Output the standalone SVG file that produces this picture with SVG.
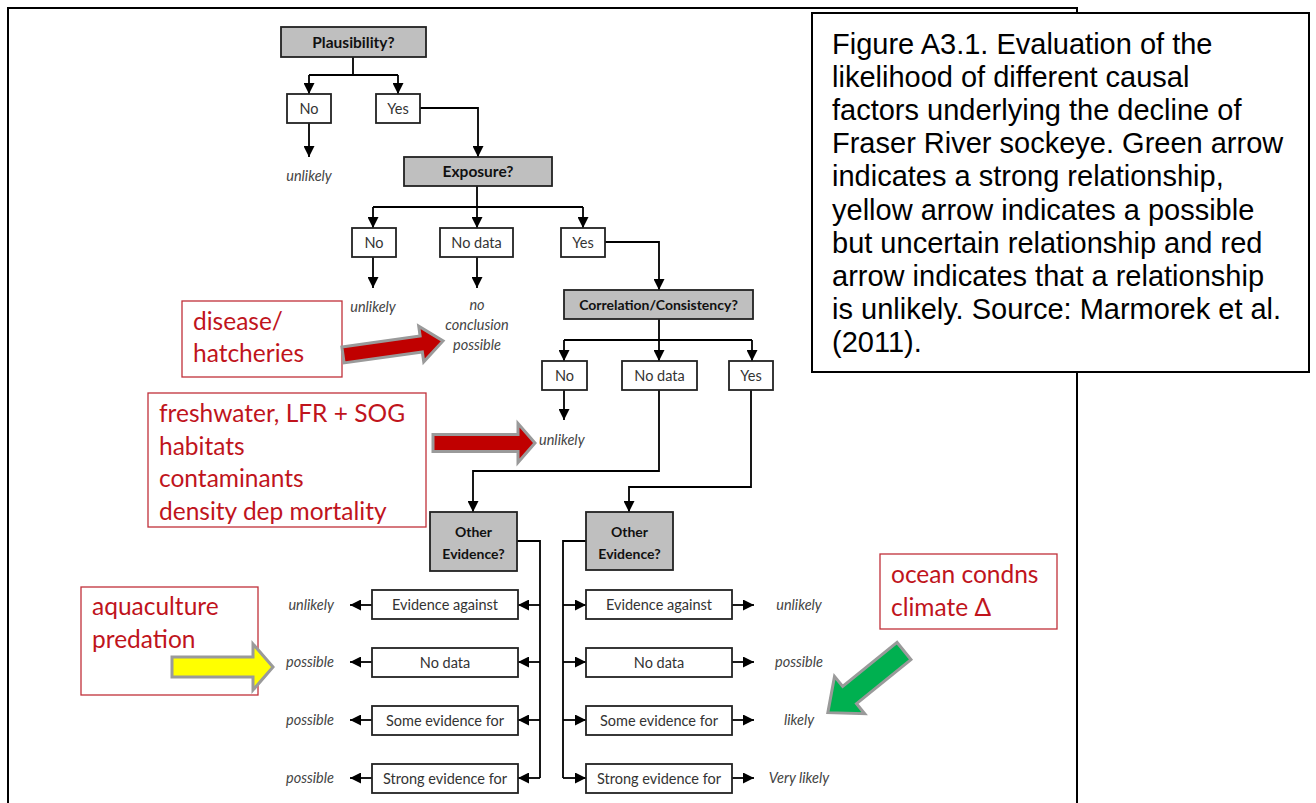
<svg xmlns="http://www.w3.org/2000/svg" width="1316" height="803" viewBox="0 0 1316 803">
<defs>
<marker id="ah" viewBox="0 0 10 10" refX="10" refY="5" markerWidth="11" markerHeight="11" markerUnits="userSpaceOnUse" orient="auto">
<path d="M0,0 L10,5 L0,10 z" fill="#000"/>
</marker>
<style>
.ln{fill:none;stroke:#000;stroke-width:1.8}
.q{fill:#BFBFBF;stroke:#222;stroke-width:1.8}
.b{fill:#fff;stroke:#222;stroke-width:1.8}
.qt{font-family:Lato,"Open Sans",sans-serif;font-weight:700;font-size:14px;fill:#111;text-anchor:middle}
.qb{font-size:15.5px}
.bt{font-family:Lato,"Open Sans",sans-serif;font-size:14.5px;fill:#333;text-anchor:middle}
.it{font-family:Lato,"Open Sans",sans-serif;font-style:italic;font-size:14.5px;fill:#444}
.ann{fill:#fff;stroke:#C0303A;stroke-width:1.3}
.at{font-family:Lato,"Open Sans",sans-serif;font-size:24.5px;fill:#C0141C}
.cap{font-family:"Liberation Sans",Arial,sans-serif;font-size:29px;fill:#000}
.blk{stroke:#9A9A9A;stroke-width:3;stroke-linejoin:miter}
</style>
</defs>
<rect x="0" y="0" width="1316" height="803" fill="#fff"/>
<rect id="frame" x="8" y="8" width="1069" height="820" fill="#fff" stroke="#000" stroke-width="2"/>

<g id="connectors">
<path class="ln" d="M353,57 V75 M309,75 H398"/>
<path class="ln" d="M309,75 V94" marker-end="url(#ah)"/>
<path class="ln" d="M398,75 V94" marker-end="url(#ah)"/>
<path class="ln" d="M309,123 V157" marker-end="url(#ah)"/>
<path class="ln" d="M420,108 H478 V157" marker-end="url(#ah)"/>
<path class="ln" d="M477,186 V207 M373,207 H583"/>
<path class="ln" d="M373,207 V228" marker-end="url(#ah)"/>
<path class="ln" d="M477,207 V228" marker-end="url(#ah)"/>
<path class="ln" d="M583,207 V228" marker-end="url(#ah)"/>
<path class="ln" d="M373,257 V288" marker-end="url(#ah)"/>
<path class="ln" d="M477,257 V288" marker-end="url(#ah)"/>
<path class="ln" d="M605,242 H659 V290" marker-end="url(#ah)"/>
<path class="ln" d="M659,319 V340 M564,340 H752"/>
<path class="ln" d="M564,340 V361" marker-end="url(#ah)"/>
<path class="ln" d="M659,340 V361" marker-end="url(#ah)"/>
<path class="ln" d="M752,340 V361" marker-end="url(#ah)"/>
<path class="ln" d="M564,390 V420" marker-end="url(#ah)"/>
<path class="ln" d="M659,390 V471 H473 V512" marker-end="url(#ah)"/>
<path class="ln" d="M751,390 V487 H629 V512" marker-end="url(#ah)"/>
<path class="ln" d="M517,541 H540 V778"/>
<path class="ln" d="M540,605 H518" marker-end="url(#ah)"/>
<path class="ln" d="M540,662 H518" marker-end="url(#ah)"/>
<path class="ln" d="M540,720 H518" marker-end="url(#ah)"/>
<path class="ln" d="M540,778 H518" marker-end="url(#ah)"/>
<path class="ln" d="M586,541 H563 V778"/>
<path class="ln" d="M563,605 H586" marker-end="url(#ah)"/>
<path class="ln" d="M563,662 H586" marker-end="url(#ah)"/>
<path class="ln" d="M563,720 H586" marker-end="url(#ah)"/>
<path class="ln" d="M563,778 H586" marker-end="url(#ah)"/>
<path class="ln" d="M372,605 H350" marker-end="url(#ah)"/>
<path class="ln" d="M372,662 H350" marker-end="url(#ah)"/>
<path class="ln" d="M372,720 H350" marker-end="url(#ah)"/>
<path class="ln" d="M372,778 H350" marker-end="url(#ah)"/>
<path class="ln" d="M732,605 H754" marker-end="url(#ah)"/>
<path class="ln" d="M732,662 H754" marker-end="url(#ah)"/>
<path class="ln" d="M732,720 H754" marker-end="url(#ah)"/>
<path class="ln" d="M732,778 H754" marker-end="url(#ah)"/>
</g>

<g id="plausibility"><rect class="q" x="281" y="27" width="145" height="30"/><text class="qt qb" x="353.5" y="47.5">Plausibility?</text></g>
<g id="p-no"><rect class="b" x="287" y="94" width="44" height="29"/><text class="bt" x="309" y="113.5">No</text></g>
<g id="p-yes"><rect class="b" x="376" y="94" width="44" height="29"/><text class="bt" x="398" y="113.5">Yes</text></g>
<g id="p-unlikely"><text class="it" x="309" y="181" text-anchor="middle">unlikely</text></g>

<g id="exposure"><rect class="q" x="404" y="157" width="148" height="29"/><text class="qt qb" x="478" y="177">Exposure?</text></g>
<g id="e-no"><rect class="b" x="352" y="228" width="44" height="29"/><text class="bt" x="374" y="247.5">No</text></g>
<g id="e-nodata"><rect class="b" x="440" y="228" width="73" height="29"/><text class="bt" x="476.5" y="247.5">No data</text></g>
<g id="e-yes"><rect class="b" x="561" y="228" width="44" height="29"/><text class="bt" x="583" y="247.5">Yes</text></g>
<g id="e-unlikely"><text class="it" x="373" y="312" text-anchor="middle">unlikely</text></g>
<g id="e-noconc"><text class="it" x="477" y="310" text-anchor="middle">no</text><text class="it" x="477" y="330" text-anchor="middle">conclusion</text><text class="it" x="477" y="350" text-anchor="middle">possible</text></g>

<g id="correlation"><rect class="q" x="564" y="290" width="189" height="29"/><text class="qt" x="658.5" y="309.5">Correlation/Consistency?</text></g>
<g id="c-no"><rect class="b" x="542" y="361" width="45" height="29"/><text class="bt" x="564.5" y="380.5">No</text></g>
<g id="c-nodata"><rect class="b" x="622" y="361" width="75" height="29"/><text class="bt" x="659.5" y="380.5">No data</text></g>
<g id="c-yes"><rect class="b" x="729" y="361" width="44" height="29"/><text class="bt" x="751" y="380.5">Yes</text></g>
<g id="c-unlikely"><text class="it" x="539" y="445">unlikely</text></g>

<g id="other-left"><rect class="q" x="430" y="512" width="87" height="59"/><text class="qt" x="473.5" y="537">Other</text><text class="qt" x="473.5" y="559">Evidence?</text></g>
<g id="other-right"><rect class="q" x="586" y="512" width="87" height="58"/><text class="qt" x="629.5" y="537">Other</text><text class="qt" x="629.5" y="559">Evidence?</text></g>

<g id="l-against"><rect class="b" x="372" y="590" width="146" height="29"/><text class="bt" x="445" y="609.5">Evidence against</text></g>
<g id="l-nodata"><rect class="b" x="372" y="648" width="146" height="29"/><text class="bt" x="445" y="667.5">No data</text></g>
<g id="l-some"><rect class="b" x="372" y="706" width="146" height="29"/><text class="bt" x="445" y="725.5">Some evidence for</text></g>
<g id="l-strong"><rect class="b" x="372" y="764" width="146" height="29"/><text class="bt" x="445" y="783.5">Strong evidence for</text></g>
<g id="l-results">
<text class="it" x="334" y="610" text-anchor="end">unlikely</text>
<text class="it" x="334" y="667" text-anchor="end">possible</text>
<text class="it" x="334" y="725" text-anchor="end">possible</text>
<text class="it" x="334" y="783" text-anchor="end">possible</text>
</g>

<g id="r-against"><rect class="b" x="586" y="590" width="146" height="29"/><text class="bt" x="659" y="609.5">Evidence against</text></g>
<g id="r-nodata"><rect class="b" x="586" y="648" width="146" height="29"/><text class="bt" x="659" y="667.5">No data</text></g>
<g id="r-some"><rect class="b" x="586" y="706" width="146" height="29"/><text class="bt" x="659" y="725.5">Some evidence for</text></g>
<g id="r-strong"><rect class="b" x="586" y="764" width="146" height="29"/><text class="bt" x="659" y="783.5">Strong evidence for</text></g>
<g id="r-results">
<text class="it" x="799" y="610" text-anchor="middle">unlikely</text>
<text class="it" x="799" y="667" text-anchor="middle">possible</text>
<text class="it" x="799" y="725" text-anchor="middle">likely</text>
<text class="it" x="799" y="783" text-anchor="middle">Very likely</text>
</g>

<g id="ann-disease"><rect class="ann" x="182" y="301" width="160" height="76"/><text class="at" x="193" y="330">disease/</text><text class="at" x="193" y="362">hatcheries</text></g>
<g id="ann-freshwater"><rect class="ann" x="148" y="393" width="278" height="134"/>
<text class="at" x="159" y="422">freshwater, LFR + SOG</text>
<text class="at" x="159" y="455">habitats</text>
<text class="at" x="159" y="487">contaminants</text>
<text class="at" x="159" y="520">density dep mortality</text></g>
<g id="ann-aquaculture"><rect class="ann" x="81" y="587" width="177" height="108"/><text class="at" x="92" y="615">aquaculture</text><text class="at" x="92" y="648">predation</text></g>
<g id="ann-ocean"><rect class="ann" x="880" y="554" width="177" height="75"/><text class="at" x="891" y="583">ocean condns</text><text class="at" x="891" y="616">climate  Δ</text></g>

<g id="arrow-red1"><path class="blk" fill="#C00000" transform="translate(343,355) rotate(-8)" d="M0,-8 L79,-8 L79,-18 L101,0 L79,18 L79,8 L0,8 Z"/></g>
<g id="arrow-red2"><path class="blk" fill="#C00000" d="M433,434.5 L518,434.5 L518,423.5 L535,443 L518,462.5 L518,451.5 L433,451.5 Z"/></g>
<g id="arrow-yellow"><path class="blk" fill="#FFFF00" d="M172,657 L253,657 L253,644 L273,667 L253,690 L253,677 L172,677 Z"/></g>
<g id="arrow-green"><path class="blk" fill="#00B050" transform="translate(904,651) rotate(141)" d="M0,-11 L70,-11 L70,-24 L98,0 L70,24 L70,11 L0,11 Z"/></g>

<g id="caption">
<rect x="812" y="13" width="497" height="359" fill="#fff" stroke="#000" stroke-width="2"/>
<text class="cap" x="832" y="53.5">Figure A3.1. Evaluation of the</text>
<text class="cap" x="832" y="86.7">likelihood of different causal</text>
<text class="cap" x="832" y="119.9">factors underlying the decline of</text>
<text class="cap" x="832" y="153.1">Fraser River sockeye. Green arrow</text>
<text class="cap" x="832" y="186.3">indicates a strong relationship,</text>
<text class="cap" x="832" y="219.5">yellow arrow indicates a possible</text>
<text class="cap" x="832" y="252.7">but uncertain relationship and red</text>
<text class="cap" x="832" y="285.9">arrow indicates that a relationship</text>
<text class="cap" x="832" y="319.1">is unlikely. Source: Marmorek et al.</text>
<text class="cap" x="832" y="352.3">(2011).</text>
</g>
</svg>
